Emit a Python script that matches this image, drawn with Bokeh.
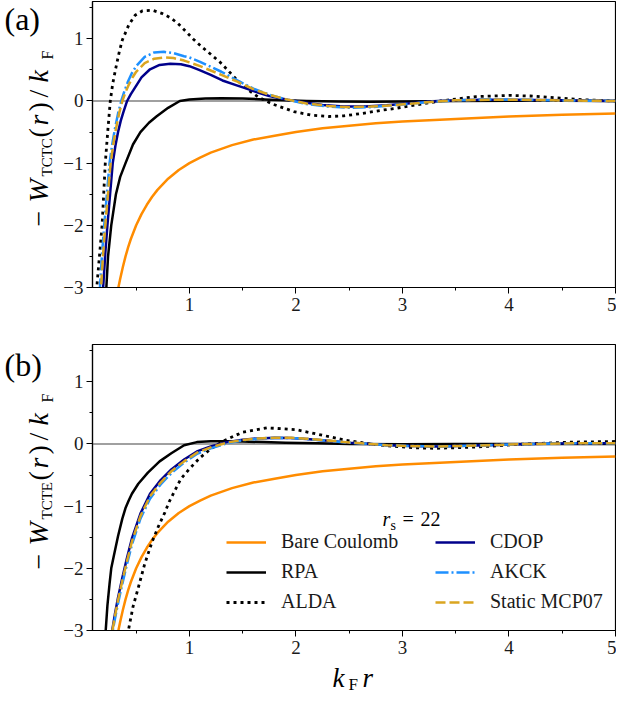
from bokeh.plotting import figure
from bokeh.models import Range1d, FixedTicker, Label, Legend, LegendItem, Span
from bokeh.layouts import column, row
from bokeh.embed import file_html
from bokeh.resources import INLINE

# ---------------- data ----------------
X_MIN, X_MAX = 0.09, 5.0
Y_MIN, Y_MAX = -3.0, 1.6
X_TICKS = [1, 2, 3, 4, 5]
X_MINOR = [0.5, 1.5, 2.5, 3.5, 4.5]
Y_TICKS = [-3, -2, -1, 0, 1]
Y_MINOR = [-2.5, -1.5, -0.5, 0.5, 1.5]
Y_TICK_LABELS = {-3: "\u22123", -2: "\u22122", -1: "\u22121", 0: "0", 1: "1"}

SERIES = ["Bare Coulomb", "RPA", "ALDA", "CDOP", "AKCK", "Static MCP07"]
RS_VALUE = "22"

# Bare Coulomb (same in both panels)
X_BARE = [0.32, 0.333, 0.35, 0.375, 0.4, 0.425, 0.45, 0.5, 0.55, 0.6, 0.65, 0.7, 0.8, 0.9, 1.0,
          1.1, 1.2, 1.4, 1.6, 1.8, 2.0, 2.25, 2.5, 2.75, 3.0, 3.5, 4.0, 4.5, 5.0]
Y_BARE = [-3.12, -3.0, -2.86, -2.67, -2.5, -2.35, -2.22, -2.0, -1.82, -1.67, -1.54, -1.43, -1.25,
          -1.11, -1.0, -0.91, -0.83, -0.71, -0.62, -0.56, -0.5, -0.44, -0.4, -0.36, -0.33, -0.29,
          -0.25, -0.22, -0.2]

# ---- panel (a): TCTC ----
XA_RPA = [0.205, 0.22, 0.236, 0.266, 0.31, 0.35, 0.40, 0.47, 0.54, 0.62, 0.69, 0.80, 0.91, 1.0,
          1.15, 1.3, 1.5, 1.7, 1.9, 2.1, 2.4, 2.7, 3.0, 3.5, 4.0, 4.5, 5.0]
YA_RPA = [-3.3, -3.0, -2.5, -2.0, -1.5, -1.22, -1.0, -0.7, -0.5, -0.35, -0.25, -0.11, 0.0, 0.025,
          0.04, 0.045, 0.04, 0.025, 0.01, 0.0, -0.01, -0.012, -0.008, 0.0, 0.003, 0.002, 0.0]

XA_ALDA = [0.12, 0.13, 0.145, 0.16, 0.18, 0.195, 0.21, 0.235, 0.257, 0.28, 0.31, 0.34, 0.37, 0.43,
           0.49, 0.56, 0.65, 0.74, 0.82, 0.89, 0.96, 1.04, 1.11, 1.18, 1.29, 1.44, 1.55, 1.65,
           1.78, 1.98, 2.15, 2.31, 2.45, 2.62, 2.8, 2.93, 3.1, 3.36, 3.69, 4.0, 4.2, 4.45, 4.7, 5.0]
YA_ALDA = [-3.4, -3.0, -2.7, -2.4, -2.0, -1.5, -1.0, -0.45, 0.0, 0.28, 0.54, 0.78, 0.98, 1.22,
           1.38, 1.45, 1.46, 1.41, 1.34, 1.25, 1.13, 0.99, 0.88, 0.78, 0.62, 0.35, 0.18, 0.06,
           -0.05, -0.17, -0.23, -0.25, -0.24, -0.2, -0.15, -0.12, -0.07, 0.0, 0.07, 0.09, 0.08,
           0.05, 0.02, 0.0]

XA_CDOP = [0.18, 0.19, 0.21, 0.23, 0.255, 0.28, 0.305, 0.33, 0.355, 0.38, 0.415, 0.45, 0.48, 0.55,
           0.63, 0.72, 0.82, 0.92, 1.0, 1.09, 1.2, 1.31, 1.43, 1.55, 1.65, 1.75, 1.92, 2.1, 2.25,
           2.45, 2.65, 2.85, 3.05, 3.25, 3.5, 3.75, 4.0, 4.25, 4.5, 4.75, 5.0]
YA_CDOP = [-3.4, -3.0, -2.45, -2.0, -1.5, -1.0, -0.72, -0.5, -0.32, -0.18, 0.0, 0.11, 0.19, 0.38,
           0.51, 0.58, 0.60, 0.59, 0.56, 0.50, 0.42, 0.33, 0.26, 0.19, 0.13, 0.08, 0.02, -0.03,
           -0.065, -0.09, -0.09, -0.07, -0.04, -0.01, 0.01, 0.02, 0.02, 0.015, 0.01, 0.005, 0.0]

XA_AKCK = [0.15, 0.16, 0.18, 0.20, 0.225, 0.25, 0.275, 0.30, 0.33, 0.36, 0.39, 0.42, 0.46, 0.50,
           0.58, 0.67, 0.76, 0.85, 0.95, 1.0, 1.1, 1.2, 1.3, 1.45, 1.6, 1.75, 1.9, 2.1, 2.3, 2.5,
           2.7, 2.9, 3.1, 3.3, 3.5, 3.8, 4.1, 4.4, 4.7, 5.0]
YA_AKCK = [-3.4, -3.0, -2.45, -2.0, -1.5, -1.0, -0.7, -0.45, -0.2, 0.0, 0.16, 0.3, 0.45, 0.56,
           0.71, 0.78, 0.79, 0.77, 0.72, 0.70, 0.63, 0.55, 0.47, 0.33, 0.2, 0.1, 0.03, -0.05,
           -0.09, -0.11, -0.1, -0.07, -0.04, -0.01, 0.01, 0.025, 0.02, 0.01, 0.005, 0.0]

XA_MCP = [0.16, 0.17, 0.19, 0.21, 0.235, 0.26, 0.285, 0.31, 0.34, 0.37, 0.40, 0.43, 0.47, 0.50,
          0.58, 0.67, 0.76, 0.85, 0.95, 1.0, 1.1, 1.2, 1.3, 1.45, 1.6, 1.75, 1.9, 2.1, 2.3, 2.5,
          2.7, 2.9, 3.1, 3.3, 3.5, 3.8, 4.1, 4.4, 4.7, 5.0]
YA_MCP = [-3.4, -3.0, -2.45, -2.0, -1.5, -1.0, -0.7, -0.45, -0.2, 0.0, 0.14, 0.26, 0.39, 0.47,
          0.61, 0.68, 0.70, 0.69, 0.65, 0.62, 0.56, 0.49, 0.42, 0.31, 0.19, 0.1, 0.03, -0.04,
          -0.08, -0.1, -0.09, -0.07, -0.04, -0.01, 0.01, 0.02, 0.02, 0.01, 0.005, 0.0]

# ---- panel (b): TCTE ----
XB_RPA = [0.205, 0.214, 0.23, 0.25, 0.266, 0.29, 0.33, 0.37, 0.40, 0.43, 0.46, 0.52, 0.61, 0.72,
          0.83, 0.95, 1.07, 1.2, 1.35, 1.5, 1.7, 1.9, 2.2, 2.5, 3.0, 3.5, 4.0, 4.5, 5.0]
YB_RPA = [-3.3, -3.0, -2.6, -2.25, -2.0, -1.8, -1.48, -1.2, -1.03, -0.91, -0.8, -0.64, -0.46,
          -0.28, -0.15, -0.02, 0.03, 0.045, 0.045, 0.04, 0.03, 0.02, 0.01, 0.0, -0.005, 0.0, 0.0,
          0.0, 0.0]

XB_ALDA = [0.40, 0.43, 0.47, 0.52, 0.58, 0.65, 0.71, 0.77, 0.81, 0.86, 0.92, 1.0, 1.1, 1.2, 1.32,
           1.5, 1.73, 2.0, 2.25, 2.47, 2.7, 2.87, 3.1, 3.3, 3.69, 4.15, 4.6, 5.0]
YB_ALDA = [-3.3, -2.97, -2.62, -2.31, -1.93, -1.57, -1.32, -1.1, -0.93, -0.76, -0.56, -0.40,
           -0.22, -0.08, 0.05, 0.19, 0.26, 0.23, 0.14, 0.06, 0.0, -0.03, -0.06, -0.07, -0.05, 0.0,
           0.03, 0.04]

XB_CDOP = [0.255, 0.275, 0.30, 0.33, 0.37, 0.41, 0.46, 0.54, 0.63, 0.73, 0.83, 0.95, 1.07, 1.2,
           1.35, 1.5, 1.65, 1.8, 1.95, 2.1, 2.3, 2.5, 2.7, 2.85, 3.0, 3.3, 3.6, 3.9, 4.2, 4.6, 5.0]
YB_CDOP = [-3.2, -3.0, -2.74, -2.47, -2.15, -1.86, -1.52, -1.12, -0.8, -0.58, -0.41, -0.25, -0.12,
           -0.04, 0.03, 0.07, 0.09, 0.1, 0.095, 0.08, 0.05, 0.02, 0.0, -0.02, -0.03, -0.04, -0.03,
           -0.015, 0.0, 0.01, 0.01]
YB_AKCK = [-3.25, -3.05, -2.82, -2.56, -2.25, -1.96, -1.62, -1.2, -0.88, -0.65, -0.47, -0.3,
           -0.16, -0.07, 0.01, 0.06, 0.085, 0.095, 0.095, 0.08, 0.05, 0.02, 0.0, -0.02, -0.03,
           -0.04, -0.03, -0.015, 0.0, 0.01, 0.01]
YB_MCP = [-3.22, -3.02, -2.78, -2.51, -2.2, -1.91, -1.57, -1.16, -0.84, -0.62, -0.44, -0.28,
          -0.14, -0.055, 0.02, 0.065, 0.09, 0.1, 0.1, 0.085, 0.055, 0.025, 0.0, -0.02, -0.03,
          -0.04, -0.03, -0.015, 0.0, 0.01, 0.01]

# ---------------- style / layout ----------------
FONT = "Liberation Serif"
MID = 0.34   # distance from alphabetic baseline to the text middle, in em
STYLES = {
    "Bare Coulomb": dict(line_color="#ff8c00", line_width=2.5),
    "RPA": dict(line_color="black", line_width=2.5),
    "ALDA": dict(line_color="black", line_width=2.8, line_dash="3 4"),
    "CDOP": dict(line_color="#00008b", line_width=2.5),
    "AKCK": dict(line_color="#1e90ff", line_width=2.5, line_dash="13 3 2 3"),
    "Static MCP07": dict(line_color="#daa520", line_width=2.5, line_dash="10 4"),
}

STRIP_W = 60           # left strip: y-axis label and panel letter
AXIS_W = 31            # tick-label border of each panel
FRAME_W, FRAME_H = 523, 286
A_TOP, A_BOT = 1, 55
B_TOP, B_BOT = 2, 32
XLAB_H = 32
TOTAL_W = STRIP_W + AXIS_W + FRAME_W + 1


def make_fig(top_border, bottom_border):
    p = figure(frame_width=FRAME_W, frame_height=FRAME_H,
               x_range=Range1d(X_MIN, X_MAX), y_range=Range1d(Y_MIN, Y_MAX),
               output_backend="svg", toolbar_location=None,
               min_border_left=AXIS_W, min_border_right=1,
               min_border_top=top_border, min_border_bottom=bottom_border,
               background_fill_color="white", border_fill_color="white")
    p.grid.visible = False
    p.outline_line_color = "black"
    p.outline_line_width = 1.2
    p.outline_line_alpha = 1.0
    p.xaxis.ticker = FixedTicker(ticks=X_TICKS, minor_ticks=X_MINOR)
    p.yaxis.ticker = FixedTicker(ticks=Y_TICKS, minor_ticks=Y_MINOR)
    p.yaxis.major_label_overrides = Y_TICK_LABELS
    for ax in (p.xaxis[0], p.yaxis[0]):
        ax.major_label_text_font = FONT
        ax.major_label_text_font_size = "19px"
        ax.major_label_text_color = "#1a1a1a"
        ax.major_tick_out = 6
        ax.major_tick_in = 0
        ax.minor_tick_out = 3
        ax.minor_tick_in = 0
        ax.axis_line_color = "black"
        ax.axis_line_width = 1.2
        ax.major_tick_line_color = "black"
        ax.minor_tick_line_color = "black"
        ax.major_tick_line_width = 1
        ax.minor_tick_line_width = 1
    p.xaxis.major_label_standoff = 4
    p.yaxis.major_label_standoff = 3
    p.add_layout(Span(location=0, dimension="width", line_color="#808080",
                      line_width=1.5, level="underlay"))
    return p


def make_strip(w, h):
    s = figure(width=w, height=h, x_range=Range1d(0, w), y_range=Range1d(0, h),
               output_backend="svg", toolbar_location=None,
               x_axis_type=None, y_axis_type=None,
               min_border_left=0, min_border_right=0, min_border_top=0, min_border_bottom=0,
               background_fill_color="white", border_fill_color="white")
    s.grid.visible = False
    s.outline_line_color = None
    return s


def add_text(p, text, x, y, size, italic=False, angle=0):
    # (x, y) is the start of the alphabetic baseline; anchor the label at the text middle
    if angle:
        x = x - MID * size
    else:
        y = y + MID * size
    p.add_layout(Label(x=x, y=y, x_units="screen", y_units="screen", text=text,
                       text_font=FONT, text_font_size=f"{size}px",
                       text_font_style="italic" if italic else "normal",
                       text_color="black", angle=angle, angle_units="deg",
                       text_align="left", text_baseline="middle"))


def add_ylabel(s, sub):
    # offsets measured upward from the panel frame's bottom (strip frame is aligned to it)
    pieces = [("\u2212", 28, False, 0, 61), ("W", 28, True, 0, 85), (sub, 15, False, 4, 111),
              ("(", 28, False, 0, 150), ("r", 28, True, 0, 162), (")", 28, False, 0, 176),
              ("/", 28, False, 0, 190), ("k", 28, True, 0, 205), ("F", 16, False, 4, 228)]
    for text, size, it, dx, sy in pieces:
        add_text(s, text, 48 + dx, sy, size, italic=it, angle=90)


def draw(p, data):
    rends = {}
    for name, (xs, ys) in zip(SERIES, data):
        rends[name] = p.line(xs, ys, line_join="round", **STYLES[name])
    return rends


pa = make_fig(A_TOP, A_BOT)
draw(pa, [(X_BARE, Y_BARE), (XA_RPA, YA_RPA), (XA_ALDA, YA_ALDA),
          (XA_CDOP, YA_CDOP), (XA_AKCK, YA_AKCK), (XA_MCP, YA_MCP)])
sa = make_strip(STRIP_W, A_TOP + FRAME_H + A_BOT)
add_ylabel(sa, "TCTC")
add_text(sa, "(a)", 4, 258, 32)

pb = make_fig(B_TOP, B_BOT)
rb = draw(pb, [(X_BARE, Y_BARE), (XB_RPA, YB_RPA), (XB_ALDA, YB_ALDA),
               (XB_CDOP, YB_CDOP), (XB_CDOP, YB_AKCK), (XB_CDOP, YB_MCP)])
sb = make_strip(STRIP_W, B_TOP + FRAME_H + B_BOT)
add_ylabel(sb, "TCTE")
add_text(sb, "(b)", 4, 255, 32)

# x-axis label  k_F r  in a strip below panel (b)
sx = make_strip(TOTAL_W, XLAB_H)
add_text(sx, "k", 332, 7, 27, italic=True)
add_text(sx, "F", 348, 4, 17)
add_text(sx, "r", 362, 7, 27, italic=True)

# legend title  r_s = 22
add_text(pb, "r", 290, 105, 20, italic=True)
add_text(pb, "s", 298, 100, 14)
add_text(pb, "=", 310, 105, 20)
add_text(pb, RS_VALUE, 328, 105, 20)


def make_legend(names, loc):
    leg = Legend(items=[LegendItem(label=n, renderers=[rb[n]]) for n in names],
                 location=loc, orientation="vertical",
                 glyph_width=40, glyph_height=22, label_height=22, label_standoff=15,
                 spacing=7, padding=0, margin=0,
                 label_text_font=FONT, label_text_font_size="20px",
                 label_text_color="#1a1a1a",
                 border_line_alpha=0, background_fill_alpha=0)
    pb.add_layout(leg, "center")


make_legend(SERIES[:3], (134, 17))
make_legend(SERIES[3:], (343, 17))

layout = column(row(sa, pa), row(sb, pb), sx)
open("out.html", "w").write(file_html(layout, INLINE))
